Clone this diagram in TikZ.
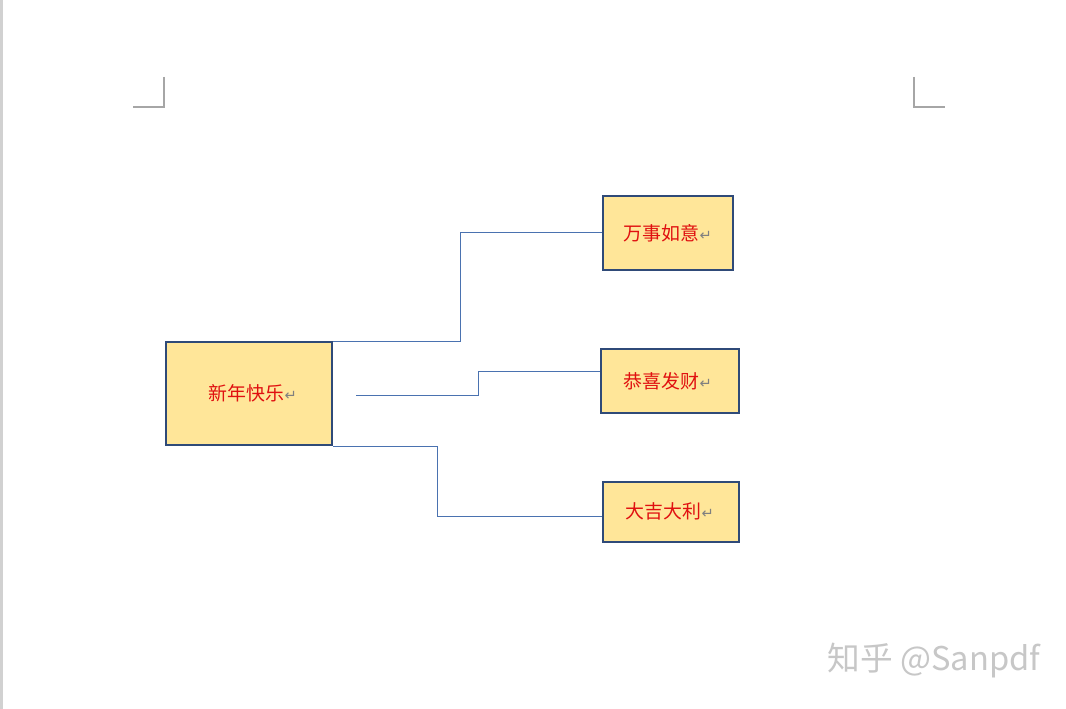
\documentclass[tikz,border=0pt]{standalone}
\usepackage{fontspec}
\newfontfamily\cjk{Noto Sans CJK SC}
\newfontfamily\dvs{DejaVu Sans}
\definecolor{boxfill}{HTML}{FFE699}
\definecolor{boxline}{HTML}{2F4A78}
\definecolor{conn}{HTML}{4A72B0}
\definecolor{txtred}{HTML}{E01010}
\definecolor{markgray}{HTML}{A6A6A6}
\tikzset{
  pbox/.style={draw=boxline, line width=1.5pt, fill=boxfill, inner sep=0pt, anchor=north west},
  lbl/.style={font=\cjk\fontsize{14.2pt}{16pt}\selectfont, text=txtred, inner sep=0pt},
  conline/.style={draw=conn, line width=0.75pt},
  cmark/.style={draw=markgray, line width=0.9pt},
}
\newcommand{\ret}{{\dvs\fontsize{11pt}{12pt}\selectfont\textcolor{gray}{↵}}}
\begin{document}
\begin{tikzpicture}[x=0.75pt,y=-0.75pt]
\useasboundingbox (0,0) rectangle (1066,709);
\fill[white] (0,0) rectangle (1066,709);
\fill[black!18] (0,0) rectangle (3,709);
% corner marks
\draw[cmark] (164,77) -- (164,107) -- (133,107);
\draw[cmark] (914,77) -- (914,107) -- (945,107);
% boxes
\node[pbox, minimum width=124.5pt, minimum height=77.25pt] (m) at (165,341) {};
\node[pbox, minimum width=97.5pt, minimum height=55.5pt] (a) at (602,195) {};
\node[pbox, minimum width=103.5pt, minimum height=48pt] (b) at (600,348) {};
\node[pbox, minimum width=102pt, minimum height=45pt] (c) at (602,481) {};
% labels
\node[lbl] (mt) at (253,393) {新年快乐\ret};
\node[lbl] (at) at (668,233) {万事如意\ret};
\node[lbl] (bt) at (668,381) {恭喜发财\ret};
\node[lbl] (ct) at (670,511) {大吉大利\ret};
% connectors
\coordinate (s2) at (356,395);
\draw[conline] (m.north east) -| (460,233) -- (a.west |- 0,233);
\draw[conline] (s2) -- (478,395) -- (478,371) -- (b.west |- 0,371);
\draw[conline] (m.south east) -| (437,516) -- (c.west |- 0,516);
% watermark
\node[font=\cjk\fontsize{24.5pt}{26pt}\selectfont, text=black!22, anchor=center] (wm) at (934,660) {知乎 @Sanpdf};
\end{tikzpicture}
\end{document}
